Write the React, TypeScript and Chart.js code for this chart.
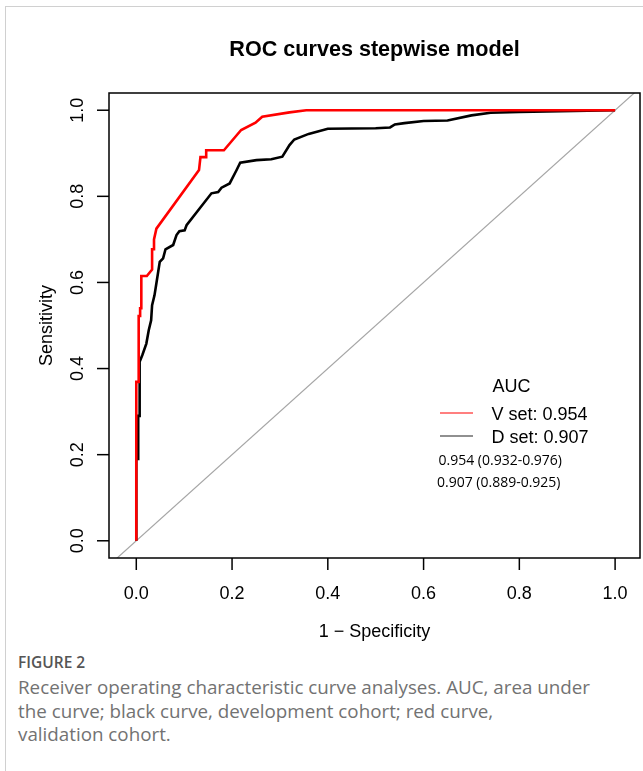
import React, { useEffect, useRef } from "react";
import { Chart, registerables } from "chart.js";

Chart.register(...registerables);

const chartTitle = "ROC curves stepwise model";
const xAxisTitle = "1 \u2212 Specificity";
const yAxisTitle = "Sensitivity";
const xTicks = [0, 0.2, 0.4, 0.6, 0.8, 1.0];
const yTicks = [0, 0.2, 0.4, 0.6, 0.8, 1.0];

// Validation set (red)
const vSetFpr = [0, 0, 0.005, 0.005, 0.008, 0.008, 0.0105, 0.0105, 0.022, 0.033, 0.033, 0.037, 0.037, 0.042, 0.131, 0.134, 0.146, 0.146, 0.183, 0.219, 0.249, 0.263, 0.32, 0.355, 1];
const vSetTpr = [0, 0.369, 0.369, 0.522, 0.522, 0.54, 0.54, 0.615, 0.615, 0.63, 0.677, 0.677, 0.70, 0.725, 0.861, 0.891, 0.891, 0.907, 0.907, 0.954, 0.971, 0.985, 0.995, 1.0, 1.0];

// Development set (black)
const dSetFpr = [0, 0, 0.004, 0.004, 0.007, 0.007, 0.0125, 0.021, 0.026, 0.031, 0.033, 0.038, 0.042, 0.049, 0.056, 0.061, 0.077, 0.084, 0.09, 0.101, 0.105, 0.157, 0.171, 0.178, 0.195, 0.209, 0.217, 0.251, 0.282, 0.305, 0.32, 0.33, 0.36, 0.40, 0.50, 0.53, 0.54, 0.56, 0.60, 0.65, 0.70, 0.74, 0.80, 1];
const dSetTpr = [0, 0.19, 0.19, 0.29, 0.29, 0.416, 0.431, 0.458, 0.489, 0.512, 0.547, 0.57, 0.598, 0.648, 0.656, 0.677, 0.687, 0.71, 0.719, 0.721, 0.733, 0.807, 0.81, 0.82, 0.83, 0.86, 0.878, 0.884, 0.886, 0.892, 0.919, 0.932, 0.945, 0.957, 0.958, 0.96, 0.967, 0.97, 0.975, 0.976, 0.988, 0.994, 0.996, 1];

const diagX = [-0.2, 1.2];
const diagY = [-0.2, 1.2];

const legendTitle = "AUC";
const legendLabels = ["V set: 0.954", "D set: 0.907"];
const ciLabels = ["0.954 (0.932-0.976)", "0.907 (0.889-0.925)"];

const captionHead = "FIGURE 2";
const captionLines = [
  "Receiver operating characteristic curve analyses. AUC, area under",
  "the curve; black curve, development cohort; red curve,",
  "validation cohort.",
];

const W = 643;
const H = 650;
const AREA = { left: 109, right: 640, top: 93, bottom: 558 };
const RFONT = '"Liberation Sans", Arial, Helvetica, sans-serif';

const toPts = (xs: number[], ys: number[]) => xs.map((x, i) => ({ x, y: ys[i] }));

const rStylePlugin = {
  id: "rStyle",
  afterDraw(chart: any) {
    const { ctx, chartArea: a, scales } = chart;
    const xs = scales.x;
    const ys = scales.y;
    ctx.save();
    ctx.strokeStyle = "#000";
    ctx.lineWidth = 1.5;
    ctx.strokeRect(a.left, a.top, a.right - a.left, a.bottom - a.top);

    ctx.fillStyle = "#000";
    ctx.font = `18px ${RFONT}`;
    ctx.textAlign = "center";
    ctx.textBaseline = "alphabetic";
    xTicks.forEach((v) => {
      const px = xs.getPixelForValue(v);
      ctx.beginPath();
      ctx.moveTo(px, a.bottom);
      ctx.lineTo(px, a.bottom + 12);
      ctx.stroke();
      ctx.fillText(v.toFixed(1), px, 599);
    });
    yTicks.forEach((v) => {
      const py = ys.getPixelForValue(v);
      ctx.beginPath();
      ctx.moveTo(a.left - 12, py);
      ctx.lineTo(a.left, py);
      ctx.stroke();
      ctx.save();
      ctx.translate(83, py);
      ctx.rotate(-Math.PI / 2);
      ctx.fillText(v.toFixed(1), 0, 0);
      ctx.restore();
    });

    const cx = (a.left + a.right) / 2;
    const cy = (a.top + a.bottom) / 2;
    ctx.fillText(xAxisTitle, cx, 637);
    ctx.save();
    ctx.translate(52, cy);
    ctx.rotate(-Math.PI / 2);
    ctx.fillText(yAxisTitle, 0, 0);
    ctx.restore();

    ctx.font = `bold 21.6px ${RFONT}`;
    ctx.fillText(chartTitle, cx, 56);

    ctx.font = `18px ${RFONT}`;
    ctx.textAlign = "left";
    ctx.fillText(legendTitle, 492.5, 391.5);
    const colors = ["#ff0000", "#222222"];
    const ly = [413, 436];
    legendLabels.forEach((t, i) => {
      ctx.strokeStyle = colors[i];
      ctx.lineWidth = 1.2;
      ctx.beginPath();
      ctx.moveTo(440, ly[i]);
      ctx.lineTo(473, ly[i]);
      ctx.stroke();
      ctx.fillText(t, 491.5, ly[i] + 6.5);
    });
    ctx.font = `14px "Open Sans", "Noto Sans", sans-serif`;
    ctx.fillText(ciLabels[0], 438.5, 464.5);
    ctx.fillText(ciLabels[1], 437, 487);
    ctx.restore();
  },
};

export default function App() {
  const canvasRef = useRef<HTMLCanvasElement | null>(null);

  useEffect(() => {
    const canvas = canvasRef.current;
    if (!canvas) return;
    const chart = new Chart(canvas, {
      type: "scatter",
      data: {
        datasets: [
          {
            label: "V set",
            data: toPts(vSetFpr, vSetTpr),
            showLine: true,
            borderColor: "#ff0000",
            borderWidth: 2.6,
            pointRadius: 0,
            order: 1,
          },
          {
            label: "D set",
            data: toPts(dSetFpr, dSetTpr),
            showLine: true,
            borderColor: "#000000",
            borderWidth: 2.6,
            pointRadius: 0,
            order: 2,
          },
          {
            label: "diagonal",
            data: toPts(diagX, diagY),
            showLine: true,
            borderColor: "#a6a6a6",
            borderWidth: 1.2,
            pointRadius: 0,
            order: 3,
          },
        ],
      },
      options: {
        responsive: false,
        animation: false,
        devicePixelRatio: 1,
        layout: {
          padding: { top: AREA.top, right: W - AREA.right, left: 0, bottom: 0 },
        },
        plugins: {
          legend: { display: false },
          tooltip: { enabled: false },
          title: { display: false },
        },
        scales: {
          x: {
            type: "linear",
            min: -0.057,
            max: 1.052,
            grid: { display: false },
            border: { display: false },
            ticks: { display: false },
            afterBuildTicks: (s: any) => {
              s.ticks = xTicks.map((v) => ({ value: v }));
            },
            afterFit: (s: any) => {
              s.height = H - AREA.bottom;
            },
          },
          y: {
            type: "linear",
            min: -0.04,
            max: 1.04,
            grid: { display: false },
            border: { display: false },
            ticks: { display: false },
            afterBuildTicks: (s: any) => {
              s.ticks = yTicks.map((v) => ({ value: v }));
            },
            afterFit: (s: any) => {
              s.width = AREA.left;
            },
          },
        },
      },
      plugins: [rStylePlugin],
    });
    return () => chart.destroy();
  }, []);

  return (
    <div
      style={{
        position: "absolute",
        left: 0,
        top: 0,
        width: W,
        height: 771,
        background: "#fff",
        overflow: "hidden",
      }}
    >
      <div style={{ position: "absolute", left: 6, top: 6, width: W - 6, height: 1, background: "#d0d0d0" }} />
      <div style={{ position: "absolute", left: 5, top: 6, width: 1, height: 771 - 6, background: "#d0d0d0" }} />
      <canvas
        ref={canvasRef}
        width={W}
        height={H}
        style={{ position: "absolute", left: 0, top: 0, width: W, height: H }}
      />
      <div
        style={{
          position: "absolute",
          left: 18,
          top: 652,
          fontFamily: '"Open Sans", "Noto Sans", sans-serif',
          fontSize: 15.5,
          lineHeight: "20px",
          fontWeight: 600,
          color: "#555555",
        }}
      >
        {captionHead}
      </div>
      <div
        style={{
          position: "absolute",
          left: 18,
          top: 676,
          fontFamily: '"Open Sans", "Noto Sans", sans-serif',
          fontSize: 18.8,
          lineHeight: "23.5px",
          fontWeight: 400,
          color: "#727272",
          whiteSpace: "nowrap",
        }}
      >
        {captionLines.map((l, i) => (
          <div key={i}>{l}</div>
        ))}
      </div>
    </div>
  );
}
